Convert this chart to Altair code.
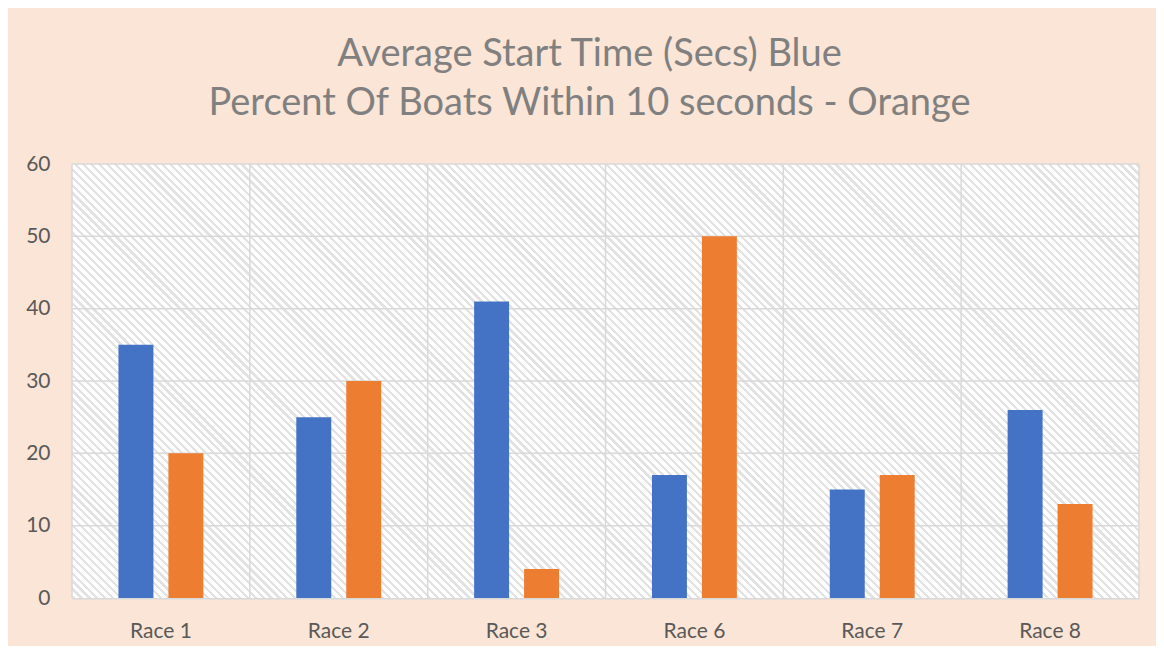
import math
import altair as alt
import pandas as pd

races = ["Race 1", "Race 2", "Race 3", "Race 6", "Race 7", "Race 8"]
avg_start_secs = [35, 25, 41, 17, 15, 26]
pct_within_10 = [20, 30, 4, 50, 17, 13]
series_names = ["Average Start Time (Secs)", "Percent Of Boats Within 10 seconds"]
series_colors = ["#4472C4", "#ED7D31"]
y_ticks = [0, 10, 20, 30, 40, 50, 60]
title_lines = ["Average Start Time (Secs) Blue", "Percent Of Boats Within 10 seconds - Orange"]

rows = []
for r, a, p in zip(races, avg_start_secs, pct_within_10):
    rows.append({"race": r, "series": series_names[0], "value": a})
    rows.append({"race": r, "series": series_names[1], "value": p})
df = pd.DataFrame(rows)
df_races = pd.DataFrame({"race": races})
df_ticks = pd.DataFrame({"tick": y_ticks[1:]})

W, H = 1067, 434
PAD = {"left": 64, "top": 156, "right": 17, "bottom": 48}

# diagonal hatch pattern approximated with a striped linear gradient
r = H / W
k = (1 + r) / (1 + r * r)
span = (W + H) / math.sqrt(2)
period = 5.6
n = int(span / period) + 1
frac = 0.4
stripe = "#e2e2e2"
stops = []
for i in range(n):
    s = i * period / span
    e = (i * period + period * frac) / span
    if s > 1:
        break
    e = min(e, 1)
    stops += [
        alt.GradientStop(offset=s, color="#ffffff"),
        alt.GradientStop(offset=s, color=stripe),
        alt.GradientStop(offset=e, color=stripe),
        alt.GradientStop(offset=e, color="#ffffff"),
    ]
stops.append(alt.GradientStop(offset=1, color="#ffffff"))
hatch = alt.LinearGradient(gradient="linear", x1=0, y1=1, x2=k, y2=1 - k * r, stops=stops)

bg = alt.Chart(pd.DataFrame({"a": [0]})).mark_rect(fill=hatch).encode(
    x=alt.value(0), x2=alt.value(W), y=alt.value(0), y2=alt.value(H)
)

y_scale = alt.Scale(domain=[0, 60], nice=False)
y_axis = alt.Axis(title=None, values=y_ticks, domain=False, ticks=False,
                  labelPadding=22, grid=False)
x_axis = alt.Axis(title=None, labelAngle=0, ticks=False, domainColor="#D9D9D9",
                  domainWidth=2, labelPadding=22, grid=False, bandPosition=0.5)

hlines = alt.Chart(df_ticks).mark_rule(color="#D9D9D9", strokeWidth=1.5).encode(
    y=alt.Y("tick:Q", scale=y_scale, axis=y_axis)
)
vlines = alt.Chart(df_races).mark_rule(color="#D9D9D9", strokeWidth=1.5).encode(
    x=alt.X("race:N", sort=races, bandPosition=0, axis=x_axis)
)
rline = alt.Chart(pd.DataFrame({"a": [0]})).mark_rule(color="#D9D9D9", strokeWidth=1.5).encode(
    x=alt.value(W), y=alt.value(0), y2=alt.value(H)
)

bars = alt.Chart(df).mark_bar().encode(
    x=alt.X("race:N", sort=races, scale=alt.Scale(paddingInner=0, paddingOuter=0), axis=x_axis),
    xOffset=alt.XOffset("series:N", sort=series_names,
                        scale=alt.Scale(paddingInner=0.3, paddingOuter=0.93)),
    y=alt.Y("value:Q", scale=y_scale, axis=y_axis),
    color=alt.Color("series:N", sort=series_names,
                    scale=alt.Scale(domain=series_names, range=series_colors), legend=None),
)

chart = alt.layer(bg, hlines, vlines, rline, bars).properties(
    width=W,
    height=H,
    padding=PAD,
    autosize=alt.AutoSizeParams(type="none"),
    background="#FBE5D6",
    title=alt.TitleParams(
        text=title_lines, font="Lato", fontSize=38, fontWeight="normal",
        color="#808080", anchor="middle", frame="group", dx=-16,
        offset=30, lineHeight=49,
    ),
).configure_view(
    stroke=None
).configure_axis(
    labelFont="Lato", labelFontSize=21, labelColor="#595959"
)

chart.save("out.html", embed_options={"renderer": "svg", "actions": False})
